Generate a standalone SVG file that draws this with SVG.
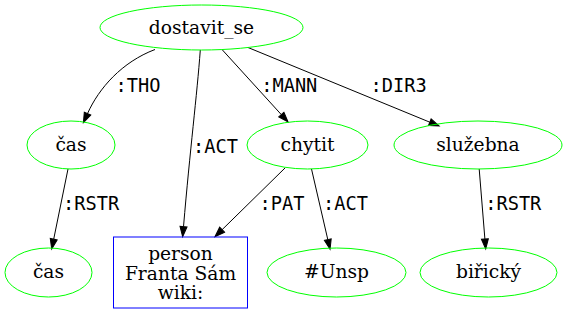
<svg xmlns="http://www.w3.org/2000/svg" width="567" height="313" viewBox="0 0 567 313">
  <style>
    .node ellipse { fill: none; stroke: #00ff00; stroke-width: 1; }
    .node rect { fill: none; stroke: #0000ff; stroke-width: 1; }
    .node text { font-family: "DejaVu Serif", serif; font-size: 18.67px; fill: #000; text-anchor: middle; }
    .edge path { fill: none; stroke: #000; stroke-width: 1; }
    .edge text { font-family: "DejaVu Sans Mono", monospace; font-size: 18.67px; fill: #000; }
  </style>
  <defs>
    <marker id="arrow" markerUnits="userSpaceOnUse" markerWidth="12" markerHeight="9" refX="0" refY="4.5" orient="auto" overflow="visible">
      <path d="M0,1 L10,4.5 L0,8 Z" fill="#000" stroke="#000" stroke-width="1"/>
    </marker>
  </defs>
  <rect width="567" height="313" fill="#fff"/>

  <!-- connectors -->
  <g id="edges">
    <g class="edge">
      <path d="M155,49.5 C122,62 99,88 87.5,113.6" marker-end="url(#arrow)"/>
      <text x="115.5" y="91.5">:THO</text>
    </g>
    <g class="edge">
      <path d="M200.3,50 C197,95 190,150 183.5,226.7" marker-end="url(#arrow)"/>
      <text x="193" y="152.5">:ACT</text>
    </g>
    <g class="edge">
      <path d="M222,49.5 L281.3,114.6" marker-end="url(#arrow)"/>
      <text x="261.2" y="91.5">:MANN</text>
    </g>
    <g class="edge">
      <path d="M248,47.5 L429.8,122.2" marker-end="url(#arrow)"/>
      <text x="370.5" y="91.5">:DIR3</text>
    </g>
    <g class="edge">
      <path d="M68,169 L53.7,239.2" marker-end="url(#arrow)"/>
      <text x="63" y="210">:RSTR</text>
    </g>
    <g class="edge">
      <path d="M285,168 L222.1,229.7" marker-end="url(#arrow)"/>
      <text x="259.5" y="210">:PAT</text>
    </g>
    <g class="edge">
      <path d="M311.5,169 L327.8,239.6" marker-end="url(#arrow)"/>
      <text x="323" y="210">:ACT</text>
    </g>
    <g class="edge">
      <path d="M479.2,169 L484.9,239" marker-end="url(#arrow)"/>
      <text x="485.2" y="210">:RSTR</text>
    </g>
  </g>

  <!-- nodes -->
  <g id="dostavit_se" class="node">
    <ellipse cx="201.5" cy="27.5" rx="101.5" ry="22.5"/>
    <text x="201.5" y="33.5">dostavit_se</text>
  </g>
  <g id="cas_1" class="node">
    <ellipse cx="71" cy="145" rx="44" ry="24"/>
    <text x="71" y="150.5">čas</text>
  </g>
  <g id="chytit" class="node">
    <ellipse cx="307.5" cy="145" rx="60.5" ry="24"/>
    <text x="307.5" y="150.5">chytit</text>
  </g>
  <g id="sluzebna" class="node">
    <ellipse cx="478" cy="145" rx="84" ry="24"/>
    <text x="478" y="150.5">služebna</text>
  </g>
  <g id="cas_2" class="node">
    <ellipse cx="48.5" cy="272.5" rx="43.5" ry="24.5"/>
    <text x="48.5" y="278">čas</text>
  </g>
  <g id="person" class="node">
    <rect x="113.5" y="237" width="134" height="71"/>
    <text x="180.5" y="259.5">person</text>
    <text x="180.5" y="279.5">Franta Sám</text>
    <text x="180.5" y="299">wiki:</text>
  </g>
  <g id="unsp" class="node">
    <ellipse cx="336.5" cy="272.5" rx="69.5" ry="24.5"/>
    <text x="336.5" y="278">#Unsp</text>
  </g>
  <g id="biricky" class="node">
    <ellipse cx="488.5" cy="272.5" rx="68.5" ry="24.5"/>
    <text x="488.5" y="278">biřický</text>
  </g>
</svg>
